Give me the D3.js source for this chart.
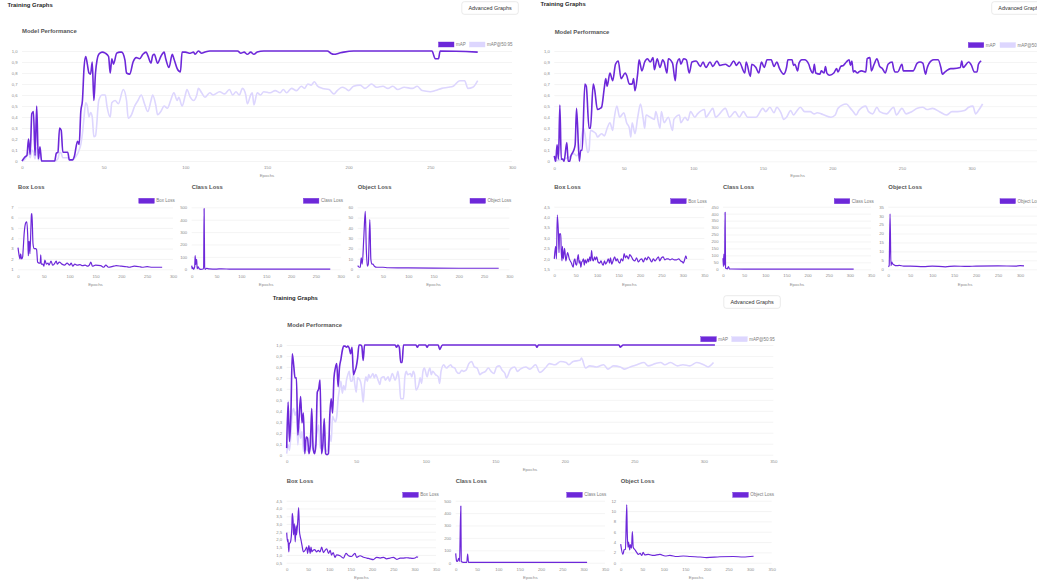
<!DOCTYPE html>
<html>
<head>
<meta charset="utf-8">
<script src="https://cdn.jsdelivr.net/npm/d3@7"></script>
<style>
  html, body { margin: 0; padding: 0; background: #fff; overflow: hidden; }
  svg { display: block; }
</style>
</head>
<body>
<svg id="board" width="1037" height="581"></svg>
<script>
// ---------- data: [epoch, value] per training run ----------
const run1Map = [[0,0],[2,0.04],[3,0.05],[4,0.2],[5,0.06],[6,0.43],[7,0.45],[8,0.05],[9,0.5],[10,0.02],[11,0.13],[12,0],[20,0],[21,0.07],[22,0.08],[23,0.3],[24,0.28],[25,0.08],[28,0.08],[29,0.01],[31,0.01],[32,0.04],[34,0.18],[35,0.15],[36,0.45],[37,0.55],[38,0.85],[39,0.95],[40,0.88],[41,0.8],[42,0.79],[43,0.9],[44,0.55],[45,0.8],[47,0.97],[49,0.99],[51,0.98],[53,0.95],[54,0.8],[55,0.93],[56,0.88],[58,0.98],[60,0.99],[61,0.99],[63,0.92],[64,0.8],[66,0.79],[68,0.9],[70,0.94],[72,0.93],[74,0.97],[76,0.99],[77,0.96],[79,0.89],[80,0.96],[81,0.97],[83,0.89],[85,0.95],[87,0.99],[88,0.93],[90,0.85],[92,0.97],[93,0.93],[95,0.84],[97,0.81],[98,0.99],[100,0.99],[103,0.98],[105,0.99],[106,0.97],[108,1],[110,0.98],[112,0.99],[115,1],[132,1],[134,0.98],[136,0.99],[138,0.97],[140,0.99],[142,0.97],[144,0.99],[148,1],[187,1],[189,0.98],[191,0.97],[194,0.98],[197,0.99],[203,1],[251,1],[253,0.93],[255,0.93],[256,1],[279,0.99]];
const run1Map5095 = [[0,0],[2,0.02],[3,0.05],[4,0.08],[5,0.03],[6,0.1],[7,0.08],[8,0.02],[9,0.12],[10,0.01],[11,0.05],[12,0],[20,0],[22,0.02],[23,0.08],[24,0.07],[25,0.03],[28,0.03],[29,0.01],[31,0.01],[33,0.04],[35,0.1],[36,0.15],[37,0.25],[38,0.4],[39,0.53],[40,0.5],[41,0.4],[42,0.44],[43,0.4],[44,0.22],[45,0.23],[47,0.55],[49,0.6],[51,0.6],[52,0.5],[54,0.4],[55,0.53],[57,0.55],[59,0.52],[62,0.65],[64,0.55],[65,0.39],[67,0.42],[69,0.5],[71,0.55],[73,0.6],[75,0.52],[77,0.45],[79,0.55],[80,0.6],[82,0.5],[83,0.42],[85,0.45],[87,0.5],[89,0.48],[91,0.55],[93,0.62],[95,0.55],[96,0.58],[98,0.5],[100,0.6],[101,0.65],[103,0.58],[105,0.55],[107,0.6],[108,0.66],[110,0.62],[112,0.58],[115,0.62],[117,0.6],[121,0.63],[124,0.61],[127,0.65],[129,0.6],[131,0.63],[133,0.6],[135,0.66],[137,0.6],[138,0.52],[140,0.6],[141,0.62],[142,0.51],[144,0.62],[146,0.6],[148,0.63],[152,0.62],[155,0.64],[158,0.62],[160,0.65],[162,0.62],[165,0.66],[168,0.64],[171,0.68],[173,0.66],[175,0.7],[177,0.69],[179,0.72],[181,0.68],[184,0.66],[188,0.65],[191,0.61],[193,0.64],[196,0.67],[198,0.66],[200,0.64],[203,0.68],[207,0.69],[210,0.66],[214,0.7],[217,0.67],[221,0.68],[224,0.66],[227,0.68],[230,0.65],[234,0.67],[239,0.66],[242,0.68],[245,0.64],[250,0.63],[253,0.64],[257,0.66],[261,0.67],[264,0.68],[268,0.73],[271,0.73],[273,0.66],[276,0.67],[279,0.73]];
const run1Box = [[0,3.1],[2,2.4],[4,2.0],[5,2.5],[7,2.0],[9,2.2],[10,2.9],[12,4.5],[15,5.5],[17,5.6],[19,4.0],[20,2.3],[21,3.6],[22,3.7],[23,2.5],[25,5.0],[26,6.3],[27,6.4],[29,3.5],[31,3.0],[34,3.0],[36,2.9],[38,1.7],[41,1.6],[43,1.6],[44,2.4],[45,1.5],[48,1.5],[50,1.3],[52,1.9],[55,1.5],[58,1.6],[60,1.4],[64,1.8],[67,1.4],[70,1.5],[74,1.8],[76,1.5],[80,1.7],[85,1.5],[90,1.4],[95,1.6],[100,1.4],[103,1.6],[106,1.3],[110,1.5],[115,1.4],[120,1.45],[125,1.35],[130,1.4],[135,1.3],[138,1.4],[141,1.7],[144,1.3],[150,1.4],[160,1.35],[166,1.2],[170,1.4],[175,1.2],[185,1.3],[190,1.35],[200,1.3],[210,1.25],[215,1.2],[225,1.3],[235,1.25],[240,1.2],[250,1.25],[260,1.2],[270,1.2],[279,1.2]];
const run1Cls = [[0,30],[1,5],[2,15],[4,0],[6,20],[7,110],[8,40],[9,60],[10,80],[11,5],[13,20],[15,5],[18,0],[24,5],[25,490],[26,20],[27,0],[30,8],[35,4],[50,2],[60,4],[80,1],[150,1],[279,1]];
const run1Obj = [[0,3.5],[3,2],[5,2],[7,11],[9,5],[12,30],[15,56],[17,20],[19,3],[21,5],[24,48],[26,10],[28,5],[30,5],[33,3],[38,2],[50,2],[60,1.5],[100,1.3],[150,1.1],[200,1],[279,1]];

const run2Map = [[0,0.05],[1,0],[2,0.15],[3,0.02],[4,0.51],[5,0.02],[6,0.02],[7,0],[9,0.17],[10,0],[11,0],[12,0.05],[14,0.1],[15,0.15],[16,0.48],[18,0],[19,0.1],[20,0.1],[22,0.7],[23,0.68],[25,0.3],[26,0.3],[28,0.7],[29,0.65],[31,0.47],[33,0.48],[34,0.49],[36,0.67],[37,0.75],[38,0.68],[40,0.8],[42,0.73],[44,0.88],[46,0.91],[48,0.75],[51,0.8],[52,0.78],[54,0.7],[56,0.7],[57,0.75],[58,0.64],[60,0.8],[61,0.92],[63,0.82],[65,0.9],[67,0.93],[69,0.9],[71,0.94],[72,0.83],[74,0.93],[76,0.85],[78,0.92],[79,0.9],[81,0.8],[82,0.93],[85,0.89],[87,0.73],[88,0.88],[90,0.93],[91,0.88],[93,0.93],[95,0.92],[97,0.8],[99,0.9],[102,0.91],[105,0.86],[107,0.9],[109,0.85],[112,0.9],[114,0.86],[117,0.91],[119,0.87],[123,0.88],[126,0.86],[129,0.91],[131,0.87],[133,0.9],[137,0.8],[138,0.9],[141,0.77],[142,0.88],[145,0.85],[147,0.8],[149,0.9],[151,0.85],[153,0.92],[156,0.92],[158,0.86],[160,0.9],[162,0.84],[165,0.79],[167,0.85],[168,0.92],[171,0.92],[172,0.87],[173,0.88],[175,0.82],[176,0.89],[178,0.92],[180,0.92],[183,0.88],[184,0.84],[186,0.8],[187,0.88],[188,0.8],[191,0.79],[192,0.82],[194,0.8],[195,0.86],[196,0.8],[198,0.78],[201,0.8],[203,0.84],[204,0.81],[206,0.86],[208,0.87],[210,0.9],[212,0.92],[213,0.87],[214,0.91],[215,0.81],[216,0.82],[218,0.8],[219,0.81],[221,0.82],[224,0.81],[225,0.93],[227,0.94],[228,0.82],[230,0.88],[232,0.93],[234,0.86],[236,0.84],[238,0.8],[240,0.88],[243,0.9],[244,0.84],[245,0.81],[247,0.81],[250,0.88],[251,0.82],[253,0.82],[256,0.82],[258,0.82],[261,0.89],[263,0.9],[265,0.89],[267,0.79],[268,0.84],[271,0.91],[273,0.92],[276,0.92],[278,0.85],[279,0.79],[281,0.81],[282,0.82],[285,0.84],[287,0.84],[292,0.85],[293,0.91],[294,0.85],[298,0.9],[300,0.87],[302,0.81],[304,0.81],[305,0.88],[307,0.91]];
const run2Map5095 = [[0,0],[3,0.01],[6,0.02],[9,0.03],[12,0.05],[14,0.07],[16,0.05],[18,0.1],[20,0.25],[21,0.3],[22,0.25],[24,0.08],[25,0.1],[26,0.28],[28,0.27],[30,0.25],[31,0.22],[34,0.25],[36,0.23],[38,0.3],[40,0.35],[42,0.28],[43,0.38],[45,0.5],[47,0.4],[50,0.44],[52,0.35],[54,0.3],[55,0.22],[56,0.35],[58,0.25],[60,0.4],[62,0.52],[64,0.38],[65,0.3],[66,0.42],[69,0.4],[72,0.38],[73,0.45],[76,0.3],[77,0.45],[79,0.35],[82,0.4],[85,0.28],[86,0.38],[90,0.42],[91,0.35],[94,0.4],[96,0.37],[98,0.45],[101,0.4],[103,0.43],[108,0.47],[109,0.4],[112,0.45],[114,0.48],[116,0.4],[123,0.48],[126,0.4],[130,0.45],[133,0.4],[136,0.45],[139,0.4],[145,0.4],[150,0.48],[152,0.45],[155,0.49],[158,0.44],[160,0.49],[163,0.44],[165,0.38],[167,0.4],[170,0.46],[172,0.42],[174,0.45],[177,0.49],[180,0.45],[184,0.45],[187,0.43],[189,0.44],[192,0.43],[194,0.42],[199,0.4],[202,0.42],[204,0.48],[210,0.52],[213,0.48],[215,0.45],[217,0.42],[219,0.46],[224,0.5],[226,0.45],[229,0.43],[232,0.49],[234,0.45],[239,0.43],[244,0.49],[246,0.42],[250,0.48],[253,0.43],[257,0.45],[261,0.48],[265,0.49],[268,0.47],[272,0.48],[277,0.45],[282,0.42],[286,0.45],[290,0.45],[295,0.46],[298,0.49],[301,0.5],[303,0.43],[305,0.46],[308,0.52]];
const run2Box = [[0,2.0],[3,2.6],[5,2.0],[7,4.1],[10,3.0],[11,2.3],[12,3.2],[15,3.2],[16,2.5],[18,1.9],[19,2.6],[21,2.0],[24,2.5],[27,1.9],[31,2.3],[35,2.0],[40,1.8],[44,1.6],[46,1.9],[48,2.0],[50,1.75],[52,1.7],[54,2.0],[56,2.2],[58,1.8],[60,1.9],[62,1.6],[64,1.85],[66,1.9],[68,2.0],[70,1.7],[72,1.95],[75,1.8],[78,2.0],[80,1.85],[83,2.1],[85,1.9],[87,2.4],[89,2.0],[91,1.9],[94,2.1],[96,1.95],[99,2.1],[102,1.85],[106,1.8],[109,1.9],[112,1.75],[114,1.7],[117,1.9],[120,1.75],[123,1.85],[126,2.0],[129,1.8],[131,2.05],[134,1.75],[137,1.9],[141,2.1],[144,1.9],[147,2.0],[150,1.85],[153,1.8],[156,2.0],[160,1.9],[163,2.25],[166,2.05],[169,2.15],[173,2.0],[176,2.2],[180,2.1],[184,1.95],[188,1.9],[192,2.05],[196,1.85],[200,1.95],[204,2.0],[208,1.85],[212,2.05],[216,1.95],[219,2.1],[223,2.0],[227,1.85],[231,2.0],[235,1.9],[239,2.0],[243,2.1],[246,1.9],[250,2.05],[254,2.1],[258,1.95],[262,2.0],[266,2.0],[270,1.95],[275,2.0],[280,1.95],[285,1.95],[290,2.0],[295,1.9],[299,1.85],[301,1.8],[304,1.95],[307,2.15],[309,2.0]];
const run2Cls = [[0,80],[1,20],[2,110],[3,30],[4,90],[5,410],[6,10],[8,5],[10,3],[13,20],[15,3],[20,2],[50,1],[309,1]];
const run2Obj = [[0,1.5],[2,2],[4,31],[6,2],[8,4],[10,3],[13,2.5],[18,2],[25,2.2],[35,1.8],[50,1.8],[80,1.5],[100,1.8],[130,1.4],[150,1.8],[180,1.6],[200,1.8],[250,1.9],[290,1.8],[300,2.0],[309,1.9]];

const run3Map = [[0,0.06],[1,0.48],[2,0.12],[3,0.36],[4,0.92],[5,0.82],[6,0.7],[7,0.7],[8,0.18],[10,0.53],[11,0.29],[12,0.38],[13,0.01],[14,0.16],[15,0.15],[16,0.01],[17,0.09],[18,0.42],[19,0.06],[20,0.01],[21,0.09],[22,0.57],[23,0.6],[24,0.68],[25,0.01],[26,0.09],[27,0.33],[28,0.01],[29,0],[30,0.01],[31,0.36],[32,0.51],[33,0.38],[34,0.7],[35,0.79],[36,0.83],[37,0.62],[38,0.8],[39,0.87],[40,0.95],[41,0.99],[42,0.99],[43,0.98],[44,0.99],[45,0.97],[46,0.92],[47,0.98],[48,0.73],[49,0.76],[50,0.8],[51,0.88],[52,1],[53,1],[54,0.99],[55,0.86],[56,1],[78,1],[79,0.98],[80,1],[81,0.98],[82,0.84],[83,0.84],[84,1],[93,1],[94,0.98],[95,1],[100,1],[101,0.98],[102,1],[109,1],[110,0.96],[112,1],[179,1],[180,0.98],[181,1],[239,1],[240,0.98],[242,1],[308,1]];
const run3Map5095 = [[0,0.01],[1,0.09],[2,0.04],[3,0.18],[4,0.38],[5,0.42],[6,0.36],[7,0.39],[8,0.09],[9,0.26],[10,0.15],[11,0.21],[12,0.03],[13,0.12],[14,0.06],[16,0.03],[17,0.18],[18,0.09],[19,0.04],[20,0.07],[22,0.21],[23,0.27],[24,0.06],[25,0.09],[26,0.19],[28,0.04],[29,0.03],[30,0.12],[31,0.18],[32,0.12],[33,0.35],[34,0.32],[35,0.3],[36,0.35],[37,0.51],[38,0.6],[39,0.67],[40,0.56],[41,0.63],[42,0.59],[43,0.68],[44,0.73],[45,0.76],[46,0.67],[47,0.67],[48,0.73],[49,0.64],[50,0.57],[51,0.7],[53,0.67],[54,0.6],[55,0.48],[56,0.64],[57,0.71],[58,0.67],[59,0.73],[60,0.7],[62,0.74],[63,0.7],[64,0.73],[66,0.67],[67,0.64],[68,0.7],[70,0.71],[71,0.68],[73,0.71],[74,0.67],[76,0.74],[78,0.68],[79,0.71],[80,0.76],[81,0.67],[82,0.51],[84,0.51],[85,0.71],[86,0.76],[87,0.73],[89,0.74],[90,0.71],[91,0.76],[92,0.73],[93,0.59],[95,0.64],[96,0.7],[97,0.65],[98,0.76],[99,0.79],[101,0.71],[102,0.76],[103,0.79],[104,0.73],[105,0.76],[107,0.73],[109,0.71],[110,0.65],[111,0.76],[113,0.82],[114,0.8],[115,0.79],[116,0.8],[118,0.82],[119,0.8],[121,0.79],[122,0.76],[124,0.74],[126,0.77],[127,0.76],[129,0.77],[131,0.83],[133,0.85],[135,0.8],[137,0.79],[139,0.73],[140,0.74],[143,0.76],[145,0.79],[147,0.76],[149,0.74],[151,0.8],[153,0.81],[155,0.77],[157,0.74],[158,0.7],[161,0.78],[164,0.8],[166,0.76],[168,0.78],[172,0.8],[175,0.78],[179,0.82],[182,0.75],[186,0.79],[189,0.83],[193,0.82],[197,0.85],[201,0.84],[203,0.82],[206,0.85],[211,0.86],[212,0.88],[215,0.79],[218,0.81],[223,0.8],[228,0.82],[231,0.78],[235,0.81],[240,0.8],[243,0.78],[247,0.8],[252,0.82],[257,0.84],[260,0.81],[265,0.83],[269,0.84],[272,0.82],[276,0.84],[281,0.81],[285,0.82],[290,0.81],[295,0.84],[300,0.82],[303,0.8],[307,0.84]];
const run3Box = [[0,2.44],[2,1.85],[3,2.0],[5,1.2],[6,1.7],[9,1.85],[12,2.7],[13,3.68],[15,3.2],[16,2.3],[18,3.0],[20,1.85],[22,2.9],[23,2.3],[26,3.2],[28,4.05],[30,2.5],[31,2.3],[34,1.9],[36,1.6],[39,1.2],[43,1.3],[47,1.5],[49,1.1],[52,1.6],[55,1.1],[57,1.5],[59,1.2],[62,1.3],[66,1.35],[70,1.2],[74,1.3],[78,1.2],[82,1.5],[86,1.15],[90,1.3],[94,1.4],[98,1.1],[102,1.3],[105,0.99],[109,1.15],[113,0.85],[117,1.0],[125,0.95],[133,0.8],[139,1.1],[145,0.95],[152,0.9],[160,1.1],[164,0.85],[172,0.95],[180,0.85],[188,0.8],[195,0.75],[203,0.7],[211,0.85],[219,0.8],[227,0.85],[234,0.75],[242,0.8],[250,0.85],[258,0.72],[266,0.8],[274,0.8],[281,0.82],[288,0.8],[296,0.78],[302,0.82],[305,0.88],[308,0.85]];
const run3Cls = [[0,75],[2,15],[4,10],[7,35],[9,10],[12,457],[13,10],[18,3],[26,3],[28,70],[30,3],[50,2],[308,2]];
const run3Obj = [[0,3.6],[5,1.6],[8,2.5],[11,2.6],[14,11.2],[15,6.5],[17,3.0],[18,4.0],[21,2.5],[22,3.5],[25,2.8],[27,6.0],[29,3.0],[33,2.5],[37,2.0],[41,1.6],[45,1.8],[49,1.4],[52,2.0],[56,1.5],[64,1.6],[76,1.4],[91,1.6],[103,1.3],[114,1.4],[130,1.2],[145,1.3],[161,1.2],[184,1.1],[199,1.0],[230,1.15],[261,1.2],[284,1.1],[308,1.25]];

// ---------- tick values ----------
const perfTicks = [0, 0.1, 0.2, 0.3, 0.4, 0.5, 0.6, 0.7, 0.8, 0.9, 1.0];
const epochTicks300 = [0, 50, 100, 150, 200, 250, 300];
const epochTicks350 = [0, 50, 100, 150, 200, 250, 300, 350];
const box1Ticks = [1, 2, 3, 4, 5, 6, 7];
const box2Ticks = [1.5, 2.0, 2.5, 3.0, 3.5, 4.0, 4.5];
const box3Ticks = [0.5, 1.0, 1.5, 2.0, 2.5, 3.0, 3.5, 4.0, 4.5];
const cls500Ticks = [0, 100, 200, 300, 400, 500];
const cls450Ticks = [0, 50, 100, 150, 200, 250, 300, 350, 400, 450];
const obj1Ticks = [0, 10, 20, 30, 40, 50, 60];
const obj2Ticks = [0, 5, 10, 15, 20, 25, 30, 35];
const obj3Ticks = [0, 2, 4, 6, 8, 10, 12];

// ---------- drawing ----------
const svg = d3.select("#board");
const FONT = "'Liberation Sans', Arial, Helvetica, sans-serif";
const DARK = "#6d28d9", LIGHT = "#ddd6fe";
const comma = d3.formatLocale({ decimal: ",", thousands: ".", grouping: [3], currency: ["", ""] });
const dec1 = comma.format(".1f");
const perfFmt = d => d === 0 ? "0" : dec1(d);
const intFmt = d3.format("d");

function lineChart(c) {
  const x = d3.scaleLinear().domain([0, c.xMax]).range([c.left, c.right]);
  const y = d3.scaleLinear().domain(c.yDomain).range([c.bottom, c.top]);
  const g = svg.append("g");

  g.append("g")
    .attr("transform", `translate(${c.left},0)`)
    .call(d3.axisLeft(y).tickValues(c.yTicks).tickFormat(c.yFormat)
      .tickSize(-(c.right - c.left)).tickPadding(4.5))
    .call(a => {
      a.attr("font-family", null).attr("font-size", null);
      a.select(".domain").remove();
      a.selectAll("line").attr("stroke", "#ececec").attr("stroke-width", 0.6);
      a.selectAll("text").attr("fill", "#8c8c8c").style("font", `4.2px ${FONT}`);
    });

  g.append("g")
    .attr("transform", `translate(0,${c.xLabelY})`)
    .call(d3.axisBottom(x).tickValues(c.xTicks).tickSize(0).tickPadding(0))
    .call(a => {
      a.attr("font-family", null).attr("font-size", null);
      a.select(".domain").remove();
      a.selectAll("text").attr("y", 0).attr("dy", "0.35em")
        .attr("fill", "#8c8c8c").style("font", `4.3px ${FONT}`);
    });

  g.append("text")
    .attr("x", (c.left + c.right) / 2).attr("y", c.epochsY).attr("dy", "0.35em")
    .attr("text-anchor", "middle").attr("fill", "#8c8c8c")
    .style("font", `4.4px ${FONT}`).text("Epochs");

  const line = d3.line().x(d => x(d[0])).y(d => y(d[1])).curve(d3.curveMonotoneX);
  c.series.forEach(s => {
    g.append("path").datum(s.data).attr("d", line)
      .attr("fill", "none").attr("stroke", s.color)
      .attr("stroke-width", s.width).attr("stroke-linejoin", "round");
  });

  c.legend.forEach(l => {
    g.append("rect").attr("x", l.x).attr("y", c.legendY).attr("width", 15.5).attr("height", 5)
      .attr("fill", l.color).attr("stroke", l.color).attr("stroke-width", 0.4);
    g.append("text").attr("x", l.x + 17.5).attr("y", c.legendY + 2.5).attr("dy", "0.35em")
      .attr("fill", "#7a7a7a").style("font", `4.5px ${FONT}`).text(l.label);
  });

  g.append("text").attr("x", c.titleX).attr("y", c.titleY)
    .attr("fill", "#555").style("font", `bold 5.9px ${FONT}`).text(c.title);
}

function header(h) {
  svg.append("text").attr("x", h.x).attr("y", h.y)
    .attr("fill", "#1f1f1f").style("font", `bold 5.9px ${FONT}`).text("Training Graphs");
  svg.append("rect").attr("x", h.bx).attr("y", h.by).attr("width", 56.5).attr("height", 12.6)
    .attr("rx", 2.5).attr("fill", "#fff").attr("stroke", "#dcdcdc").attr("stroke-width", 0.6);
  svg.append("text").attr("x", h.bx + 28.25).attr("y", h.by + 6.3).attr("dy", "0.35em")
    .attr("text-anchor", "middle").attr("fill", "#333")
    .style("font", `5.4px ${FONT}`).text("Advanced Graphs");
}

function panel(p) {
  header(p.head);
  lineChart({
    left: p.perf.left, right: p.perf.right, top: p.perf.top, bottom: p.perf.bottom,
    xMax: p.xMax, xTicks: p.xTicks, yDomain: [0, 1], yTicks: perfTicks, yFormat: perfFmt,
    xLabelY: p.perf.xLabelY, epochsY: p.perf.epochsY,
    title: "Model Performance", titleX: p.perf.titleX, titleY: p.perf.titleY,
    legendY: p.perf.legendY,
    legend: [{ label: "mAP", color: DARK, x: p.perf.leg1 }, { label: "mAP@50:95", color: LIGHT, x: p.perf.leg2 }],
    series: [{ data: p.map5095, color: LIGHT, width: 1.6 }, { data: p.map, color: DARK, width: 1.6 }]
  });
  p.losses.forEach(l => {
    lineChart({
      left: l.left, right: l.right, top: p.lossTop, bottom: p.lossBottom,
      xMax: p.xMax, xTicks: p.xTicks, yDomain: l.yDomain, yTicks: l.yTicks, yFormat: l.yFormat,
      xLabelY: p.lossXLabelY, epochsY: p.lossEpochsY,
      title: l.title, titleX: l.left, titleY: p.lossTitleY,
      legendY: p.lossLegendY,
      legend: [{ label: l.title, color: DARK, x: l.leg }],
      series: [{ data: l.data, color: DARK, width: 1.2 }]
    });
  });
}

// run 1 (top left)
panel({
  head: { x: 7.5, y: 6.6, bx: 461.8, by: 1.7 },
  xMax: 300, xTicks: epochTicks300, map: run1Map, map5095: run1Map5095,
  perf: { left: 22, right: 512, top: 51, bottom: 161, xLabelY: 167.7, epochsY: 175.7,
          titleX: 22, titleY: 33.3, legendY: 42, leg1: 438.5, leg2: 469.5 },
  lossTop: 207.3, lossBottom: 269.3, lossXLabelY: 276, lossEpochsY: 284,
  lossTitleY: 189.3, lossLegendY: 198.3,
  losses: [
    { title: "Box Loss", left: 18, right: 173, yDomain: [1, 7], yTicks: box1Ticks, yFormat: intFmt, data: run1Box, leg: 138.8 },
    { title: "Class Loss", left: 191.7, right: 340.7, yDomain: [0, 500], yTicks: cls500Ticks, yFormat: intFmt, data: run1Cls, leg: 303.4 },
    { title: "Object Loss", left: 357.7, right: 509.3, yDomain: [0, 60], yTicks: obj1Ticks, yFormat: intFmt, data: run1Obj, leg: 470 }
  ]
});

// run 2 (top right)
panel({
  head: { x: 540.5, y: 6.4, bx: 991.7, by: 1.7 },
  xMax: 350, xTicks: epochTicks350, map: run2Map, map5095: run2Map5095,
  perf: { left: 554.3, right: 1041, top: 51, bottom: 161.3, xLabelY: 168.3, epochsY: 175.7,
          titleX: 554.7, titleY: 34, legendY: 42.6, leg1: 968.3, leg2: 1000 },
  lossTop: 206.7, lossBottom: 269.3, lossXLabelY: 275.7, lossEpochsY: 284,
  lossTitleY: 189.3, lossLegendY: 198.7,
  losses: [
    { title: "Box Loss", left: 554.3, right: 704.3, yDomain: [1.5, 4.5], yTicks: box2Ticks, yFormat: dec1, data: run2Box, leg: 670.7 },
    { title: "Class Loss", left: 723, right: 871, yDomain: [0, 450], yTicks: cls450Ticks, yFormat: intFmt, data: run2Cls, leg: 834.3 },
    { title: "Object Loss", left: 888.3, right: 1042, yDomain: [0, 35], yTicks: obj2Ticks, yFormat: intFmt, data: run2Obj, leg: 1000 }
  ]
});

// run 3 (bottom centre)
panel({
  head: { x: 272.7, y: 300.3, bx: 723.8, by: 295.7 },
  xMax: 350, xTicks: epochTicks350, map: run3Map, map5095: run3Map5095,
  perf: { left: 286.7, right: 773.3, top: 345, bottom: 454.7, xLabelY: 461.7, epochsY: 469.3,
          titleX: 287.3, titleY: 327.3, legendY: 336.7, leg1: 700.8, leg2: 731.8 },
  lossTop: 500.7, lossBottom: 562.7, lossXLabelY: 569.3, lossEpochsY: 577.3,
  lossTitleY: 483.3, lossLegendY: 492.3,
  losses: [
    { title: "Box Loss", left: 286.7, right: 436, yDomain: [0.5, 4.5], yTicks: box3Ticks, yFormat: dec1, data: run3Box, leg: 402.8 },
    { title: "Class Loss", left: 455.7, right: 605, yDomain: [0, 500], yTicks: cls500Ticks, yFormat: intFmt, data: run3Cls, leg: 566.8 },
    { title: "Object Loss", left: 620.7, right: 771.7, yDomain: [0, 12], yTicks: obj3Ticks, yFormat: intFmt, data: run3Obj, leg: 732.8 }
  ]
});
</script>
</body>
</html>
